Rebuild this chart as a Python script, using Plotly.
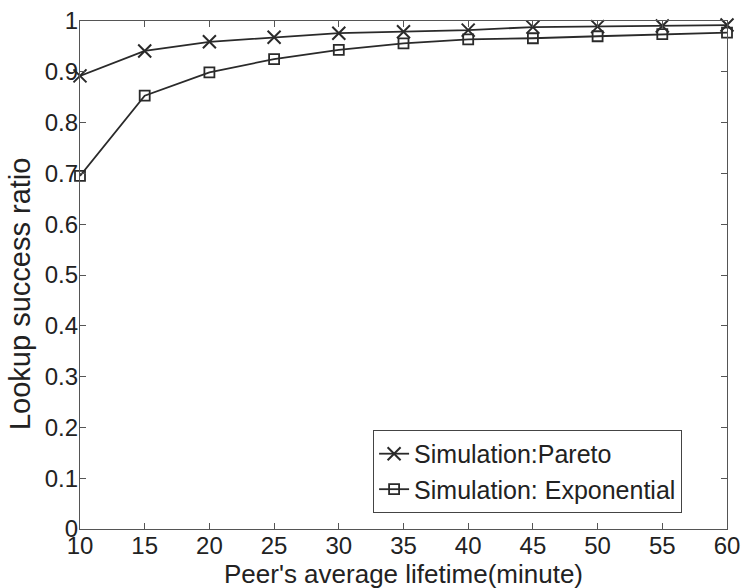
import plotly.graph_objects as go

lifetime = [10, 15, 20, 25, 30, 35, 40, 45, 50, 55, 60]
pareto = [0.892, 0.941, 0.959, 0.968, 0.976, 0.979, 0.982, 0.988, 0.989, 0.990, 0.992]
exponential = [0.695, 0.853, 0.899, 0.925, 0.943, 0.956, 0.964, 0.966, 0.970, 0.974, 0.977]
y_ticks = [0, 0.1, 0.2, 0.3, 0.4, 0.5, 0.6, 0.7, 0.8, 0.9, 1]
y_labels = ["0", "0.1", "0.2", "0.3", "0.4", "0.5", "0.6", "0.7", "0.8", "0.9", "1"]
x_title = "Peer's average lifetime(minute)"
y_title = "Lookup success ratio"

line_col = "#2a2a2a"
font_fam = "Liberation Sans, Arial"
fig = go.Figure()
fig.add_trace(go.Scatter(
    x=lifetime, y=pareto, mode="lines+markers", name="Simulation:Pareto",
    line=dict(color=line_col, width=1.8),
    marker=dict(symbol="x-thin", size=13, line=dict(color=line_col, width=2)),
    cliponaxis=False))
fig.add_trace(go.Scatter(
    x=lifetime, y=exponential, mode="lines+markers", name="Simulation: Exponential",
    line=dict(color=line_col, width=1.8),
    marker=dict(symbol="square-open", size=10, color=line_col, line=dict(width=1.8)),
    cliponaxis=False))

axis_common = dict(
    showline=True, linecolor="#555555", linewidth=1.2, mirror="ticks",
    ticks="inside", ticklen=6, tickcolor="#555555", showgrid=False, zeroline=False,
    automargin=False,
    tickfont=dict(family=font_fam, size=24, color="#222222"),
)
fig.update_xaxes(range=[10, 60], tickvals=lifetime, ticktext=[str(v) for v in lifetime],
                 ticklabelstandoff=-5, **axis_common)
fig.update_yaxes(range=[0, 1], tickvals=y_ticks, ticktext=y_labels,
                 ticklabelstandoff=-4, **axis_common)
fig.add_annotation(text=x_title, xref="paper", yref="paper", x=0.5, y=0,
                   xanchor="center", yanchor="middle", yshift=-45, showarrow=False,
                   font=dict(family=font_fam, size=26, color="#222222"))
fig.add_annotation(text=y_title, xref="paper", yref="paper", x=-0.0927, y=0.4626,
                   xanchor="center", yanchor="middle", textangle=-90, showarrow=False,
                   font=dict(family=font_fam, size=29, color="#222222"))
fig.update_layout(
    width=744, height=588, autosize=False,
    margin=dict(l=80, r=17, t=21, b=59),
    plot_bgcolor="white", paper_bgcolor="white",
    showlegend=True,
    legend=dict(x=0.453, y=0.195, xanchor="left", yanchor="top",
                bordercolor="#444444", borderwidth=1, bgcolor="white",
                font=dict(family=font_fam, size=25, color="#222222"),
                tracegroupgap=0, itemwidth=30),
)
fig.write_html("out.html")
